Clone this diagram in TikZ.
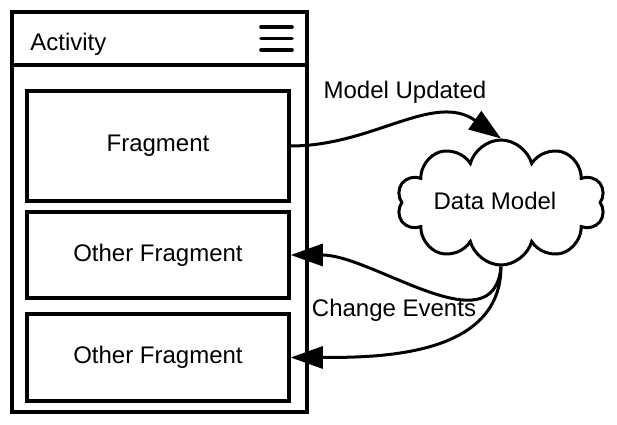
\documentclass[tikz,border=0pt]{standalone}
\usepackage{fontspec}
\setmainfont{Liberation Sans}
\usetikzlibrary{arrows.meta, positioning, shapes.symbols}

\begin{document}
\begin{tikzpicture}[x=0.5pt, y=0.5pt, >={Triangle[length=16pt, width=11pt]},
  every node/.style={font=\fontsize{12}{14}\selectfont},
  box/.style={draw, line width=1.75pt, inner sep=0pt},
  frag/.style={box, minimum width=131pt},
  link/.style={->, line width=1.5pt}]
\useasboundingbox (0,0) rectangle (617,424);

% activity frame with title bar
\node[box, minimum width=147.5pt, minimum height=200pt] (activity) at (159.5,212) {};
\node[box, minimum width=147.5pt, minimum height=26.5pt, anchor=north] (header) at (activity.north) {};
\node[anchor=west, inner sep=0pt] (title) at (30,380) {Activity};
\draw[line width=1.8pt, line cap=round] (261,397) -- (292,397) (261,385.5) -- (292,385.5) (261,374) -- (292,374);

% fragments
\node[frag, minimum height=55pt] (fragment) at (158,278) {Fragment};
\node[frag, minimum height=43pt] (other1) at (158,169) {Other Fragment};
\node[frag, minimum height=43.5pt] (other2) at (158,66.5) {Other Fragment};

% data model
\node[cloud, draw, line width=1.5pt, cloud puffs=10, cloud ignores aspect, minimum width=104pt, minimum height=62.5pt, inner sep=0pt] (model) at (501,221.5) {};
\node (modeltext) at (495,223) {Data Model};

\node (updated) at (405,332) {Model Updated};
\node (events) at (394,114) {Change Events};

\draw[link] (fragment.east) to[out=0, in=145] (model.north);
\draw[link] (model.south) to[out=-95, in=0] (other1.east);
\draw[link] (model.south) to[out=-90, in=0] (other2.east);
\end{tikzpicture}
\end{document}
